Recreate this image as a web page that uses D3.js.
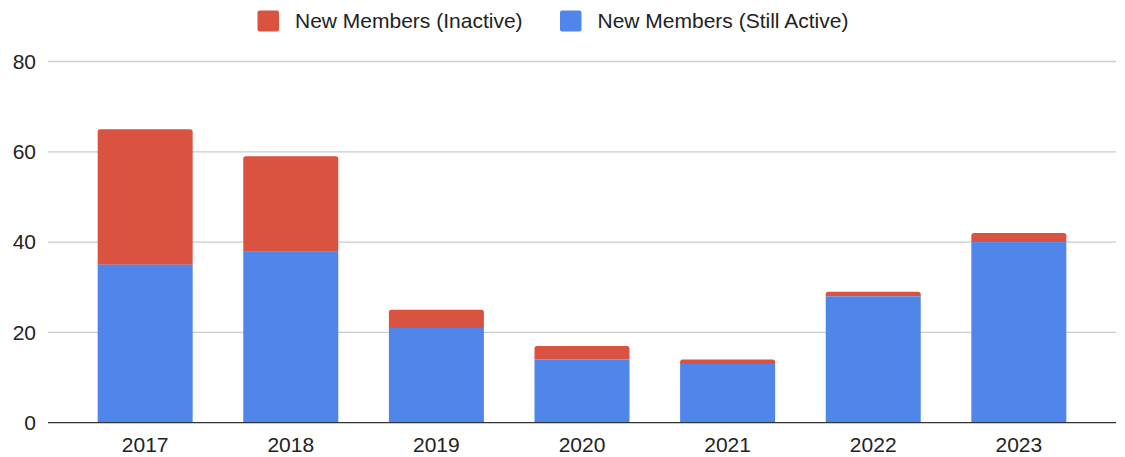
<!DOCTYPE html>
<html><head><meta charset="utf-8">
<script src="https://cdn.jsdelivr.net/npm/d3@7"></script>
<style>body{margin:0;background:#fff;}svg{display:block;font-family:"Liberation Sans",Arial,sans-serif;}</style>
</head><body>
<svg id="c" width="1125" height="457"></svg>
<script>
const years = ["2017","2018","2019","2020","2021","2022","2023"];
const stillActive = [35, 38, 21, 14, 13, 28, 40];
const inactive = [30, 21, 4, 3, 1, 1, 2];
const yTicks = [0, 20, 40, 60, 80];
const seriesNames = ["New Members (Inactive)", "New Members (Still Active)"];
const colors = {active: "#5086ea", inactive: "#da5240"};

(function () {
const svg = d3.select("#c");
const mLeft = 48, mRight = 1116, mTop = 61.5, mBottom = 422.7;
const fs = 21;
const x = d3.scaleBand().domain(years).range([mLeft, mRight]).paddingInner(0.3475).paddingOuter(0.341);
const y = d3.scaleLinear().domain([0, 80]).range([mBottom, mTop]);

// gridlines
svg.append("g").selectAll("line").data(yTicks.filter(d => d !== 0)).join("line")
  .attr("x1", mLeft).attr("x2", mRight)
  .attr("y1", d => y(d)).attr("y2", d => y(d))
  .attr("stroke", "#cccccc").attr("stroke-width", 1.3);

// y labels
svg.append("g").selectAll("text").data(yTicks).join("text")
  .attr("x", 36).attr("y", d => y(d)).attr("dy", "0.35em")
  .attr("text-anchor", "end").attr("font-size", fs).attr("fill", "#222")
  .text(d => d);

const data = years.map((yr, i) => ({yr, a: stillActive[i], n: inactive[i]}));

const r = 2.5;
svg.append("g").selectAll("path").data(data).join("path")
  .attr("fill", colors.inactive)
  .attr("d", d => {
    const x0 = x(d.yr), w = x.bandwidth(), yt = y(d.a + d.n), yb = y(d.a);
    return `M${x0},${yb} L${x0},${yt + r} Q${x0},${yt} ${x0 + r},${yt} L${x0 + w - r},${yt} Q${x0 + w},${yt} ${x0 + w},${yt + r} L${x0 + w},${yb} Z`;
  });

svg.append("g").selectAll("rect").data(data).join("rect")
  .attr("fill", colors.active)
  .attr("x", d => x(d.yr)).attr("width", x.bandwidth())
  .attr("y", d => y(d.a)).attr("height", d => y(0) - y(d.a));

// baseline
svg.append("line").attr("x1", mLeft).attr("x2", mRight)
  .attr("y1", y(0)).attr("y2", y(0)).attr("stroke", "#333").attr("stroke-width", 1.3);

// x labels
svg.append("g").selectAll("text").data(years).join("text")
  .attr("x", d => x(d) + x.bandwidth() / 2).attr("y", 452)
  .attr("text-anchor", "middle").attr("font-size", fs).attr("fill", "#222")
  .text(d => d);

// legend
const legend = [
  {name: seriesNames[0], color: colors.inactive, x: 257.5},
  {name: seriesNames[1], color: colors.active, x: 560}
];
const lg = svg.append("g").selectAll("g").data(legend).join("g")
  .attr("transform", d => `translate(${d.x},10.5)`);
lg.append("rect").attr("width", 21.5).attr("height", 21).attr("rx", 2).attr("fill", d => d.color);
lg.append("text").attr("x", 37.5).attr("y", 10.5).attr("dy", "0.35em")
  .attr("font-size", fs).attr("fill", "#222").text(d => d.name);
})();
</script>
</body></html>
